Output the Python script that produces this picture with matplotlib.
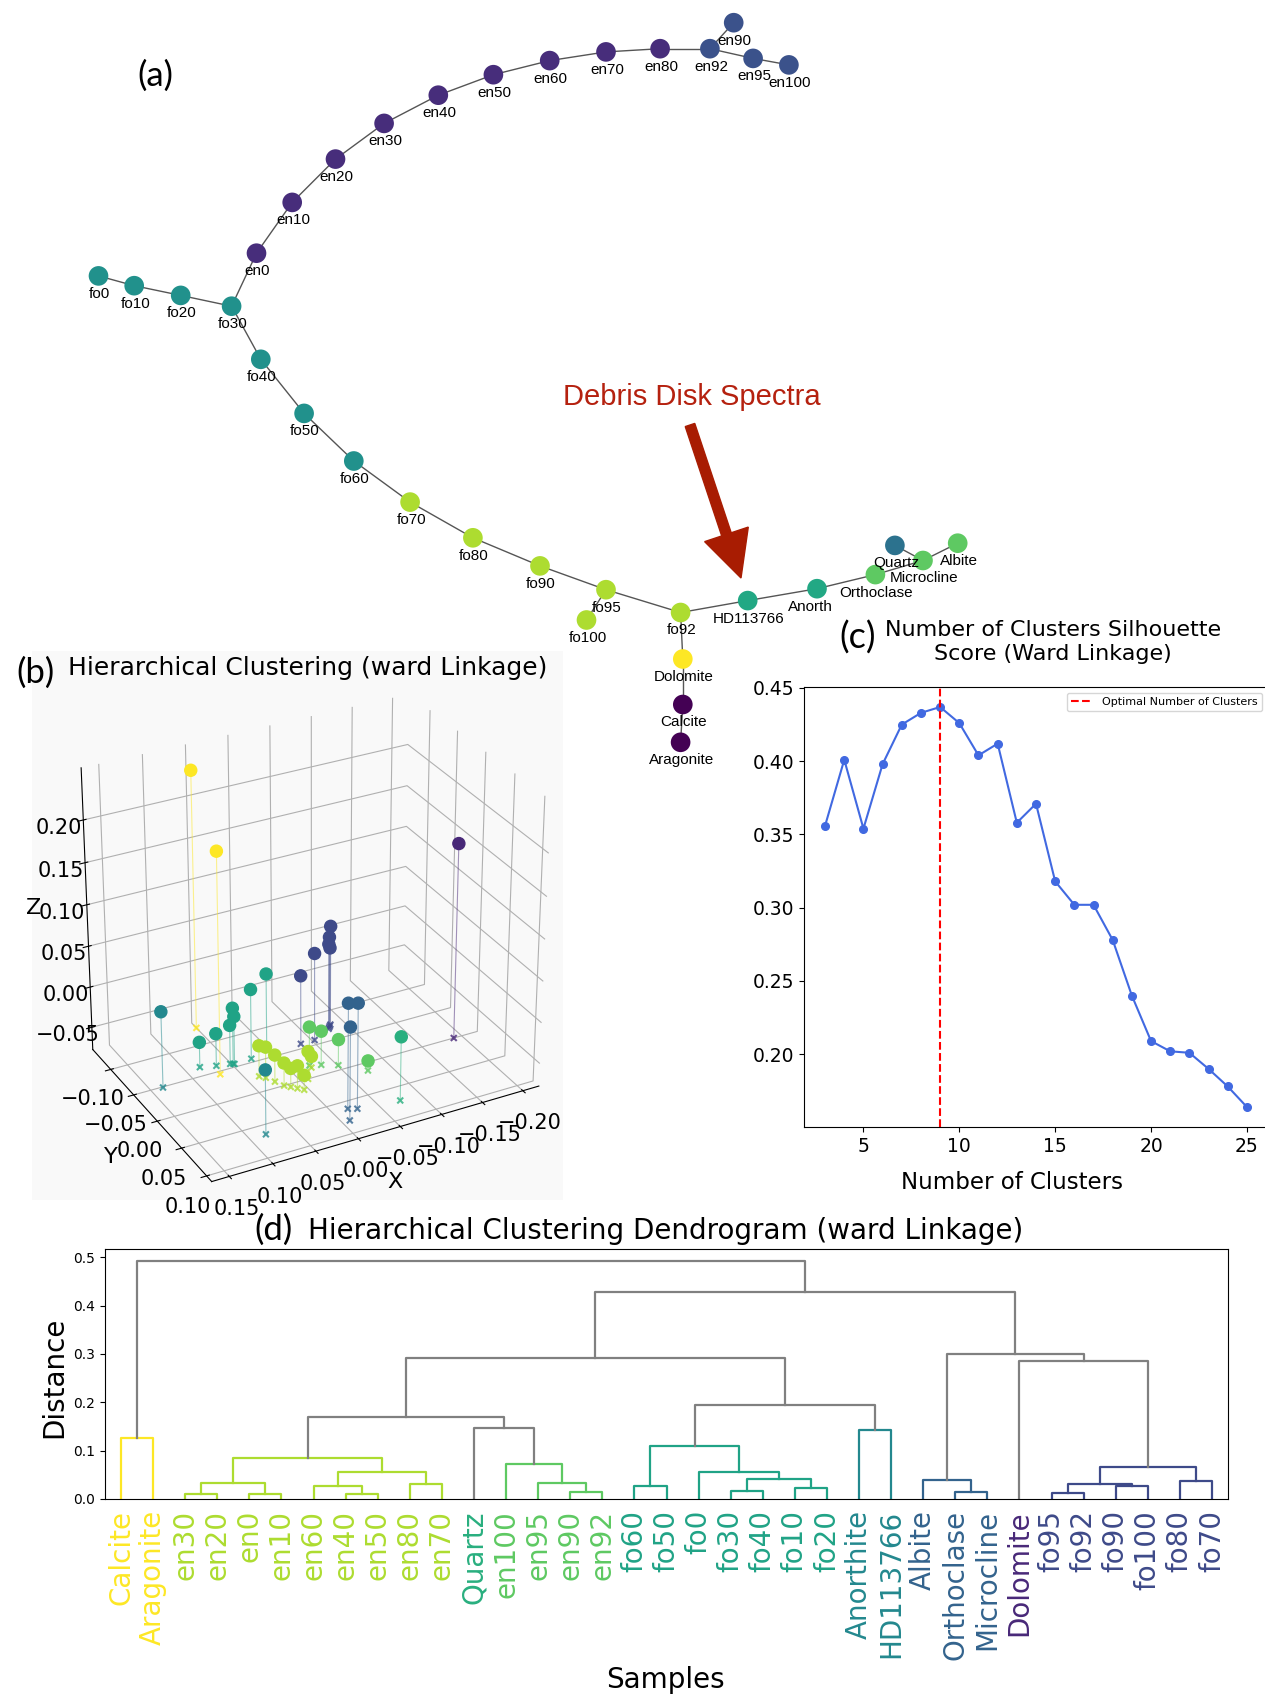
import numpy as np
import matplotlib.pyplot as plt
from matplotlib.patches import Rectangle, FancyArrow

W, H = 1265, 1697

# ---------------- (a) spectral similarity graph ----------------
node_names = ["fo0", "fo10", "fo20", "fo30", "fo40", "fo50", "fo60", "fo70", "fo80",
              "fo90", "fo95", "fo100", "fo92",
              "en0", "en10", "en20", "en30", "en40", "en50", "en60", "en70", "en80",
              "en92", "en90", "en95", "en100",
              "HD113766", "Anorth", "Orthoclase", "Microcline", "Albite", "Quartz",
              "Dolomite", "Calcite", "Aragonite"]
node_x = [98.5, 134.2, 180.7, 231.6, 260.8, 304.1, 353.8, 410.1, 472.9,
          540.0, 606.0, 586.5, 680.6,
          256.5, 292.2, 335.5, 384.1, 438.3, 493.4, 549.7, 606.0, 660.1,
          709.9, 733.7, 753.1, 788.9,
          747.7, 817.0, 875.4, 923.0, 957.7, 894.9,
          682.8, 682.8, 680.6]
node_y = [275.9, 285.7, 295.4, 306.2, 359.3, 413.4, 461.0, 502.1, 537.8,
          565.9, 589.7, 620.0, 612.5,
          253.2, 202.4, 159.1, 123.4, 95.2, 74.7, 60.6, 51.9, 48.7,
          48.7, 22.7, 58.4, 64.9,
          600.6, 588.7, 574.6, 560.5, 543.2, 545.4,
          659.0, 704.5, 742.3]
node_colors = ["#21918c"] * 7 + ["#addc30"] * 6 + ["#472d7b"] * 9 + ["#3b528b"] * 4 + \
              ["#22a884", "#22a884", "#5ec962", "#5ec962", "#5ec962", "#2c728e",
               "#fde725", "#440154", "#440154"]
graph_edges = [("fo0", "fo10"), ("fo10", "fo20"), ("fo20", "fo30"), ("fo30", "en0"),
               ("en0", "en10"), ("en10", "en20"), ("en20", "en30"), ("en30", "en40"),
               ("en40", "en50"), ("en50", "en60"), ("en60", "en70"), ("en70", "en80"),
               ("en80", "en92"), ("en92", "en90"), ("en92", "en95"), ("en95", "en100"),
               ("fo30", "fo40"), ("fo40", "fo50"), ("fo50", "fo60"), ("fo60", "fo70"),
               ("fo70", "fo80"), ("fo80", "fo90"), ("fo90", "fo95"), ("fo95", "fo100"),
               ("fo95", "fo92"), ("fo92", "HD113766"), ("HD113766", "Anorth"),
               ("Anorth", "Orthoclase"), ("Orthoclase", "Microcline"), ("Microcline", "Albite"),
               ("Microcline", "Quartz"), ("fo92", "Dolomite"), ("Dolomite", "Calcite"),
               ("Calcite", "Aragonite")]

# ---------------- shared sample / cluster info ----------------
sample_names = ["Calcite", "Aragonite", "en30", "en20", "en0", "en10", "en60", "en40",
                "en50", "en80", "en70", "Quartz", "en100", "en95", "en90", "en92",
                "fo60", "fo50", "fo0", "fo30", "fo40", "fo10", "fo20", "Anorthite",
                "HD113766", "Albite", "Orthoclase", "Microcline", "Dolomite", "fo95",
                "fo92", "fo90", "fo100", "fo80", "fo70"]
sample_cluster = [0, 0, 1, 1, 1, 1, 1, 1, 1, 1, 1, 3, 2, 2, 2, 2,
                  4, 4, 4, 4, 4, 4, 4, 5, 5, 6, 6, 6, 7, 8, 8, 8, 8, 8, 8]
cluster_colors = ["#fde725", "#addc30", "#5ec962", "#29af7f", "#20a386",
                  "#23888e", "#33638d", "#482878", "#3e4a89"]

# ---------------- (b) 3-D cluster coordinates ----------------
pc_x = [0.050, 0.070, 0.030, 0.025, 0.020, 0.015, 0.010, 0.005, 0.035, -0.009, -0.023,
        -0.075, -0.023, -0.035, -0.051, -0.074,
        0.083, 0.066, 0.051, 0.047, 0.048, 0.026, 0.000, 0.136, 0.081,
        -0.018, -0.027, -0.009, -0.190,
        -0.084, -0.080, -0.078, -0.082, -0.053, -0.036]
pc_y = [-0.130, -0.045, -0.020, -0.010, 0.000, 0.005, 0.010, 0.015, -0.025, 0.000, -0.016,
        0.072, -0.020, -0.016, -0.008, 0.013,
        -0.065, -0.060, -0.057, -0.055, -0.056, -0.056, -0.068, -0.049, 0.065,
        0.062, 0.066, 0.080, 0.000,
        -0.076, -0.072, -0.070, -0.074, -0.058, -0.058]
pc_z = [0.235, 0.190, -0.040, -0.045, -0.050, -0.055, -0.050, -0.060, -0.040, -0.044, -0.064,
        0.000, -0.030, -0.036, -0.046, -0.066,
        -0.047, -0.038, -0.030, -0.019, -0.009, 0.008, 0.013, 0.015, 0.000,
        0.050, 0.050, 0.035, 0.160,
        0.045, 0.035, 0.028, 0.020, 0.030, 0.007]

# ---------------- (c) silhouette scores ----------------
n_clusters = list(range(3, 26))
silhouette = [0.356, 0.401, 0.354, 0.398, 0.425, 0.433, 0.437, 0.426, 0.404, 0.412,
              0.358, 0.371, 0.318, 0.302, 0.302, 0.278, 0.240, 0.209, 0.202, 0.201,
              0.190, 0.178, 0.164]
best_k = 9

# ---------------- (d) ward linkage (scipy-style merge list) ----------------
merges = [(0, 1, 0.127), (2, 3, 0.011), (4, 5, 0.011), (36, 37, 0.034), (7, 8, 0.011),
          (6, 39, 0.026), (9, 10, 0.030), (40, 41, 0.055), (38, 42, 0.085),
          (14, 15, 0.014), (13, 44, 0.034), (12, 45, 0.072), (11, 46, 0.146),
          (43, 47, 0.169), (16, 17, 0.026), (19, 20, 0.017), (21, 22, 0.022),
          (50, 51, 0.041), (18, 52, 0.055), (49, 53, 0.110), (23, 24, 0.142),
          (54, 55, 0.194), (48, 56, 0.291), (26, 27, 0.015), (25, 58, 0.039),
          (29, 30, 0.013), (31, 32, 0.026), (60, 61, 0.032), (33, 34, 0.037),
          (62, 63, 0.066), (28, 64, 0.286), (59, 65, 0.300), (57, 66, 0.428),
          (35, 67, 0.492)]

fig = plt.figure(figsize=(W / 100, H / 100), dpi=100)

# background canvas in pixel units for the graph panel and annotations
bg = fig.add_axes([0, 0, 1, 1])
bg.set_xlim(0, W)
bg.set_ylim(H, 0)
bg.axis("off")
bg.add_patch(Rectangle((32, 651), 531, 549, facecolor="#f9f9f9", edgecolor="none", zorder=0))

idx = {n: i for i, n in enumerate(node_names)}
for a, b in graph_edges:
    bg.plot([node_x[idx[a]], node_x[idx[b]]], [node_y[idx[a]], node_y[idx[b]]],
            color="#555555", lw=1.0, zorder=1)
bg.scatter(node_x, node_y, s=200, c=node_colors, edgecolors="none", zorder=2)
for i, name in enumerate(node_names):
    dx = -7 if name == "Anorth" else 1
    bg.text(node_x[i] + dx, node_y[i] + 18, name, ha="center", va="center",
            fontsize=11, family="Liberation Sans", zorder=3)

bg.text(155, 76, "(a)", ha="center", va="center", fontsize=25, family="Lato")
bg.text(692, 397, "Debris Disk Spectra", ha="center", va="center", fontsize=21,
        family="Liberation Sans", color="#b5210f")
bg.add_patch(FancyArrow(690, 425, 741 - 690, 578 - 425, width=10, head_width=46,
                        head_length=46, length_includes_head=True,
                        color="#a81c02", zorder=4))

# panel titles
bg.text(35, 673, "(b)", ha="center", va="center", fontsize=25, family="Lato")
bg.text(308, 668, "Hierarchical Clustering (ward Linkage)", ha="center", va="center",
        fontsize=18)
bg.text(858, 638, "(c)", ha="center", va="center", fontsize=26, family="Lato")
bg.text(1053, 642, "Number of Clusters Silhouette\nScore (Ward Linkage)", ha="center",
        va="center", fontsize=16, linespacing=1.25)
bg.text(273, 1230, "(d)", ha="center", va="center", fontsize=25, family="Lato")
bg.text(666, 1231, "Hierarchical Clustering Dendrogram (ward Linkage)", ha="center",
        va="center", fontsize=20)
bg.text(54, 1377, "Distance", ha="center", va="center", rotation=90, fontsize=20)
bg.text(665, 1680, "Samples", ha="center", va="center", fontsize=20)

# ---------------- (b) 3-D scatter ----------------
ax_b = fig.add_axes([26 / W, 1 - 1222 / H, 560 / W, 570 / H], projection="3d")
ax_b.set_facecolor((1, 1, 1, 0))
ax_b.patch.set_alpha(0)
for axis in (ax_b.xaxis, ax_b.yaxis, ax_b.zaxis):
    axis.set_pane_color((1, 1, 1, 0))
zfloor = -0.078
pt_colors = [cluster_colors[c] for c in sample_cluster]
for x, y, z, c in zip(pc_x, pc_y, pc_z, pt_colors):
    ax_b.plot([x, x], [y, y], [zfloor, z], color=c, lw=0.8, alpha=0.5)
ax_b.scatter(pc_x, pc_y, [zfloor] * len(pc_x), c=pt_colors, marker="x", s=18,
             alpha=0.8, depthshade=False)
ax_b.scatter(pc_x, pc_y, pc_z, c=pt_colors, s=75, alpha=1, depthshade=False)
ax_b.set_xlim(-0.22, 0.17)
ax_b.set_ylim(-0.14, 0.11)
ax_b.set_zlim(zfloor, 0.26)
ax_b.set_xticks([-0.20, -0.15, -0.10, -0.05, 0.00, 0.05, 0.10, 0.15])
ax_b.set_yticks([-0.10, -0.05, 0.00, 0.05, 0.10])
ax_b.set_zticks([-0.05, 0.00, 0.05, 0.10, 0.15, 0.20])
ax_b.tick_params(labelsize=15)
ax_b.set_xlabel("X", fontsize=16)
ax_b.set_ylabel("Y", fontsize=16)
ax_b.set_zlabel("Z", fontsize=16)
ax_b.set_box_aspect((4, 3.0, 3.5), zoom=0.98)
ax_b.view_init(elev=29, azim=62)

# ---------------- (c) silhouette score ----------------
ax_c = fig.add_axes([804 / W, 1 - 1127 / H, 464 / W, 440 / H])
ax_c.plot(n_clusters, silhouette, "-o", color="#4169e1", ms=5.5, lw=1.5)
ax_c.axvline(best_k, color="red", ls="--", lw=1.5, label="Optimal Number of Clusters")
ax_c.legend(loc="upper right", fontsize=8)
ax_c.set_xlabel("Number of Clusters", fontsize=16.5, labelpad=10)
ax_c.xaxis.set_label_coords(0.448, -0.10)
ax_c.tick_params(labelsize=13.5)

# ---------------- (d) dendrogram ----------------
ax_d = fig.add_axes([105 / W, 1 - 1499 / H, 1123 / W, 250 / H])
n = len(sample_names)
pos = {i: 10 * i + 5 for i in range(n)}
hgt = {i: 0.0 for i in range(n)}
grp = {i: sample_cluster[i] for i in range(n)}
for k, (a, b, h) in enumerate(merges):
    g = grp[a] if grp[a] == grp[b] else None
    col = cluster_colors[g] if g is not None else "#808080"
    ax_d.plot([pos[a], pos[a], pos[b], pos[b]], [hgt[a], h, h, hgt[b]], color=col, lw=1.6)
    pos[n + k] = (pos[a] + pos[b]) / 2
    hgt[n + k] = h
    grp[n + k] = g
ax_d.set_xlim(0, 10 * n)
ax_d.set_ylim(0, 0.517)
ax_d.set_xticks([10 * i + 5 for i in range(n)])
ax_d.set_xticklabels(sample_names, rotation=90, fontsize=20)
for lbl, c in zip(ax_d.get_xticklabels(), sample_cluster):
    lbl.set_color(cluster_colors[c])
ax_d.tick_params(axis="x", length=0, pad=8)
ax_d.tick_params(axis="y", labelsize=10)

fig.savefig("out.png", dpi=100)
